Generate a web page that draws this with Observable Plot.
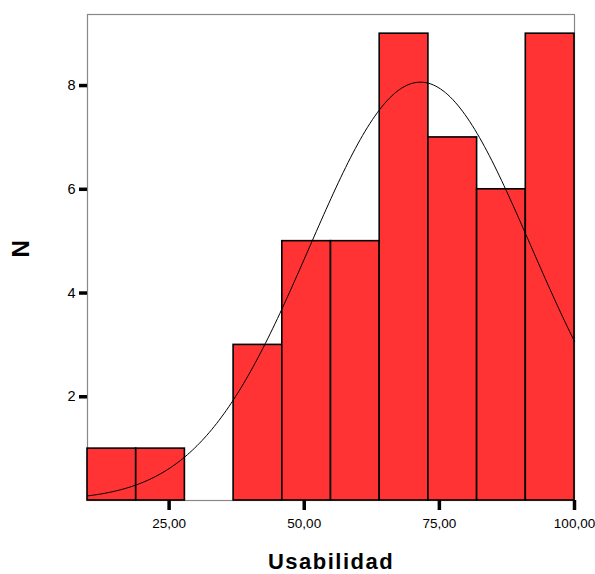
<!DOCTYPE html>
<html>
<head>
<meta charset="utf-8">
<script src="https://cdn.jsdelivr.net/npm/d3@7"></script>
<script src="https://cdn.jsdelivr.net/npm/@observablehq/plot@0.6"></script>
<style>
  html, body { margin: 0; padding: 0; background: #fff; }
  svg { display: block; }
</style>
</head>
<body>
<div id="chart"></div>
<script>
// Histogram bins (edges) and counts
const binStarts = [9.9, 18.91, 27.92, 36.93, 45.94, 54.95, 63.96, 72.97, 81.98, 90.99];
const binEnds   = [18.91, 27.92, 36.93, 45.94, 54.95, 63.96, 72.97, 81.98, 90.99, 100];
const counts    = [1, 1, 0, 3, 5, 5, 9, 7, 6, 9];
// Fitted normal curve parameters (as drawn by SPSS)
const curveMean = 71.5;
const curveSd = 20.5;
const curveN = 46;
const binWidth = 9.01;
const xTicks = [25, 50, 75, 100];
const yTicks = [2, 4, 6, 8];

const bars = binStarts.map((s, i) => ({x1: s, x2: binEnds[i], n: counts[i]})).filter(d => d.n > 0);

const curve = d3.range(0, 201).map(i => {
  const x = 9.9 + (100 - 9.9) * i / 200;
  const y = curveN * binWidth / (curveSd * Math.sqrt(2 * Math.PI)) *
            Math.exp(-((x - curveMean) ** 2) / (2 * curveSd * curveSd));
  return {x, y};
});

const fmt = d => d.toFixed(2).replace(".", ",");

const chart = Plot.plot({
  width: 595,
  height: 574,
  marginLeft: 87,
  marginRight: 21,
  marginTop: 14,
  marginBottom: 74,
  style: {fontFamily: "Liberation Sans, Arial, sans-serif", fontSize: "14px", color: "#000", background: "#fff"},
  x: {domain: [9.9, 100]},
  y: {domain: [0, 9.37]},
  marks: [
    Plot.frame({stroke: "#888", strokeWidth: 1.2}),
    Plot.rectY(bars, {x1: "x1", x2: "x2", y1: 0, y2: "n", fill: "#FF3333", stroke: "#000", strokeWidth: 1.6, inset: 0}),
    Plot.line(curve, {x: "x", y: "y", stroke: "#000", strokeWidth: 1}),
    Plot.axisX({ticks: xTicks, tickFormat: fmt, tickSize: 10, tickPadding: 8, strokeWidth: 3.5, label: null, fill: "#000", fontSize: 13.5}),
    Plot.axisY({ticks: yTicks, tickFormat: d => String(d), tickSize: 8, tickPadding: 4, strokeWidth: 3.5, label: null, fill: "#000", fontSize: 14.5}),
    Plot.text(["Usabilidad"], {frameAnchor: "bottom", dy: 68, lineAnchor: "bottom", text: d => d, fontSize: 22, fontWeight: "bold", fill: "#000"}),
    Plot.text(["N"], {frameAnchor: "left", dx: -66, rotate: -90, text: d => d, fontSize: 24, fontWeight: "bold", fill: "#000"})
  ]
});
// letter spacing for the x label, like the reference
d3.select(chart).selectAll("text").filter(function() { return this.textContent === "Usabilidad"; })
  .attr("letter-spacing", "1.5px");
document.getElementById("chart").appendChild(chart);
</script>
</body>
</html>
